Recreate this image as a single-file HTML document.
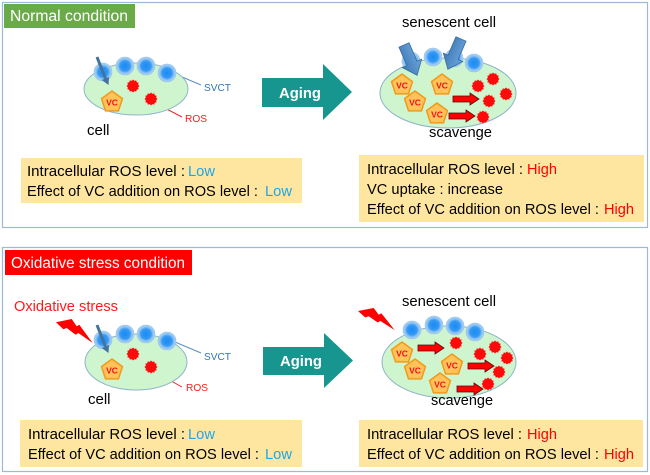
<!DOCTYPE html>
<html><head><meta charset="utf-8">
<style>
html,body{margin:0;padding:0;background:#fff;}
svg{display:block;}
text{font-family:"Liberation Sans",Arial,sans-serif;}
</style></head>
<body>
<svg width="650" height="475" viewBox="0 0 650 475" xmlns="http://www.w3.org/2000/svg">
<defs>
  <radialGradient id="bc" cx="50%" cy="50%" r="50%">
    <stop offset="0%" stop-color="#1a8af3"/>
    <stop offset="55%" stop-color="#3399f5"/>
    <stop offset="78%" stop-color="#8cc2f2"/>
    <stop offset="100%" stop-color="#b3d5f3"/>
  </radialGradient>
  <linearGradient id="ba" x1="0" y1="0" x2="0" y2="1">
    <stop offset="0%" stop-color="#6aa6dc"/>
    <stop offset="100%" stop-color="#3f78b5"/>
  </linearGradient>
  <polygon id="ros" fill="#ff0a0a" points="6.5,0 5.12,1.37 5.63,3.25 3.75,3.75 3.25,5.63 1.37,5.12 0,6.5 -1.37,5.12 -3.25,5.63 -3.75,3.75 -5.63,3.25 -5.12,1.37 -6.5,0 -5.12,-1.37 -5.63,-3.25 -3.75,-3.75 -3.25,-5.63 -1.37,-5.12 0,-6.5 1.37,-5.12 3.25,-5.63 3.75,-3.75 5.63,-3.25 5.12,-1.37"/>
  <polygon id="pent" fill="#ffc35a" stroke="#f29a18" stroke-width="1.5" stroke-linejoin="round" points="0,-11 10.46,-3.4 6.47,8.9 -6.47,8.9 -10.46,-3.4"/>
  <circle id="svct" r="9" fill="url(#bc)" stroke="#94c0ea" stroke-width="0.6"/>
  <polygon id="bolt" fill="#ff0000" points="0,3.3 15.7,0 20.7,7.3 23.3,5.7 36.7,24 22.3,14 19.7,15.7 10.7,9 7.3,10.3"/>
  <path id="barrow" d="M0,-5.5 H20 V-10.5 L33,0 L20,10.5 V5.5 H0 Z" fill="url(#ba)" stroke="#3a6b9c" stroke-width="0.8"/>
  <path id="rarrow" d="M0,-3 H17 V-6 L26,0 L17,6 V3 H0 Z" fill="#ff0000" stroke="#5a0a0a" stroke-width="0.8"/>
</defs>

<rect width="650" height="475" fill="#fff"/>

<!-- ===== Panel 1 ===== -->
<rect x="2.5" y="2.5" width="645" height="225" fill="none" stroke="#9db9d9" stroke-width="1.2"/>
<rect x="4" y="4" width="131" height="24" fill="#6aaa48"/>
<text x="10" y="21" font-size="15.5" fill="#fff" textLength="118" lengthAdjust="spacingAndGlyphs">Normal condition</text>

<!-- normal cell -->
<line x1="175" y1="74" x2="201" y2="85" stroke="#5b8fc7" stroke-width="1"/>
<line x1="155" y1="103" x2="182" y2="117" stroke="#e03030" stroke-width="1"/>
<ellipse cx="136" cy="89" rx="52" ry="26" fill="#cff5cf" stroke="#8fb4c9" stroke-width="1"/>
<use href="#svct" x="103" y="72"/>
<use href="#svct" x="125" y="66"/>
<use href="#svct" x="146" y="66"/>
<use href="#svct" x="167" y="73"/>
<line x1="97" y1="57" x2="105.4" y2="78.5" stroke="#44729e" stroke-width="3"/>
<polygon points="108.5,85 109,77 101.8,80" fill="#44729e"/>
<use href="#pent" x="112" y="102"/>
<text x="112" y="105.5" font-size="8.5" font-weight="bold" fill="#e8141e" text-anchor="middle">VC</text>
<use href="#ros" x="133" y="86"/>
<use href="#ros" x="151" y="99"/>
<text x="204" y="91" font-size="10.5" fill="#2e75b6" textLength="27" lengthAdjust="spacingAndGlyphs">SVCT</text>
<text x="185" y="122" font-size="10.5" fill="#ff1a1a" textLength="22" lengthAdjust="spacingAndGlyphs">ROS</text>
<text x="87" y="135" font-size="15" fill="#000">cell</text>

<!-- Aging arrow 1 -->
<polygon points="262,78 323,78 323,64 352,92 323,120 323,107 262,107" fill="#17968f"/>
<text x="279" y="98" font-size="15" font-weight="bold" fill="#fff" textLength="42" lengthAdjust="spacingAndGlyphs">Aging</text>

<!-- senescent cell 1 -->
<text x="402" y="27" font-size="15" fill="#000" textLength="94" lengthAdjust="spacingAndGlyphs">senescent cell</text>
<ellipse cx="448" cy="93" rx="68" ry="35" fill="#cff5cf" stroke="#8fb4c9" stroke-width="1"/>
<use href="#svct" x="411" y="61"/>
<use href="#svct" x="433" y="57"/>
<use href="#svct" x="454" y="58"/>
<use href="#svct" x="474" y="63"/>
<use href="#barrow" transform="translate(404,45) rotate(66.6)"/>
<use href="#barrow" transform="translate(461,39) rotate(113.4)"/>
<use href="#pent" x="402" y="85"/>
<text x="402" y="88.5" font-size="8.5" font-weight="bold" fill="#e8141e" text-anchor="middle">VC</text>
<use href="#pent" x="442" y="85"/>
<text x="442" y="88.5" font-size="8.5" font-weight="bold" fill="#e8141e" text-anchor="middle">VC</text>
<use href="#pent" x="415" y="102"/>
<text x="415" y="105.5" font-size="8.5" font-weight="bold" fill="#e8141e" text-anchor="middle">VC</text>
<use href="#pent" x="437" y="114"/>
<text x="437" y="117.5" font-size="8.5" font-weight="bold" fill="#e8141e" text-anchor="middle">VC</text>
<use href="#rarrow" x="453" y="99"/>
<use href="#rarrow" x="449" y="116"/>
<use href="#ros" x="478" y="86"/>
<use href="#ros" x="493" y="79"/>
<use href="#ros" x="506" y="94"/>
<use href="#ros" x="489" y="101"/>
<use href="#ros" x="483" y="117"/>
<text x="429" y="137" font-size="15" fill="#000" textLength="63" lengthAdjust="spacingAndGlyphs">scavenge</text>

<!-- yellow boxes panel 1 -->
<rect x="21" y="158" width="281" height="45" fill="#fee6a0"/>
<text x="27" y="176" font-size="15" fill="#000" textLength="158" lengthAdjust="spacingAndGlyphs">Intracellular ROS level :</text>
<text x="188" y="176" font-size="15" fill="#1ea5e6" textLength="27" lengthAdjust="spacingAndGlyphs">Low</text>
<text x="27" y="196" font-size="15" fill="#000" textLength="231" lengthAdjust="spacingAndGlyphs">Effect of VC addition on ROS level :</text>
<text x="265" y="196" font-size="15" fill="#1ea5e6" textLength="27" lengthAdjust="spacingAndGlyphs">Low</text>

<rect x="359" y="155" width="285" height="67" fill="#fee6a0"/>
<text x="367" y="174" font-size="15" fill="#000" textLength="156" lengthAdjust="spacingAndGlyphs">Intracellular ROS level :</text>
<text x="527" y="174" font-size="15" fill="#ff0000" textLength="30" lengthAdjust="spacingAndGlyphs">High</text>
<text x="367" y="194" font-size="15" fill="#000" textLength="136" lengthAdjust="spacingAndGlyphs">VC uptake : increase</text>
<text x="367" y="214" font-size="15" fill="#000" textLength="232" lengthAdjust="spacingAndGlyphs">Effect of VC addition on ROS level :</text>
<text x="604" y="214" font-size="15" fill="#ff0000" textLength="30" lengthAdjust="spacingAndGlyphs">High</text>

<!-- ===== Panel 2 ===== -->
<rect x="2.5" y="247.5" width="645" height="224" fill="none" stroke="#9db9d9" stroke-width="1.2"/>
<rect x="5" y="250" width="187" height="25" fill="#ff0000"/>
<text x="11" y="268" font-size="15.3" fill="#fff" textLength="174" lengthAdjust="spacingAndGlyphs">Oxidative stress condition</text>

<text x="14" y="311" font-size="15" fill="#ff1a1a" textLength="104" lengthAdjust="spacingAndGlyphs">Oxidative stress</text>
<use href="#bolt" x="56" y="319"/>

<!-- cell 2 -->
<line x1="175" y1="342" x2="201" y2="353" stroke="#5b8fc7" stroke-width="1"/>
<line x1="155" y1="372" x2="182" y2="387" stroke="#e03030" stroke-width="1"/>
<ellipse cx="136" cy="362" rx="51" ry="28" fill="#cff5cf" stroke="#8fb4c9" stroke-width="1"/>
<use href="#svct" x="103" y="340"/>
<use href="#svct" x="125" y="334"/>
<use href="#svct" x="146" y="334"/>
<use href="#svct" x="167" y="341"/>
<line x1="97" y1="325" x2="105.4" y2="346.5" stroke="#44729e" stroke-width="3"/>
<polygon points="108.5,353 109,345 101.8,348" fill="#44729e"/>
<use href="#pent" x="112" y="370"/>
<text x="112" y="373.5" font-size="8.5" font-weight="bold" fill="#e8141e" text-anchor="middle">VC</text>
<use href="#ros" x="133" y="354"/>
<use href="#ros" x="151" y="367"/>
<text x="204" y="360" font-size="10.5" fill="#2e75b6" textLength="27" lengthAdjust="spacingAndGlyphs">SVCT</text>
<text x="186" y="391" font-size="10.5" fill="#ff1a1a" textLength="22" lengthAdjust="spacingAndGlyphs">ROS</text>
<text x="88" y="404" font-size="15" fill="#000">cell</text>

<!-- Aging arrow 2 -->
<polygon points="263,347 324,347 324,333 353,360.5 324,388 324,375 263,375" fill="#17968f"/>
<text x="280" y="366" font-size="15" font-weight="bold" fill="#fff" textLength="42" lengthAdjust="spacingAndGlyphs">Aging</text>

<!-- senescent cell 2 -->
<text x="402" y="306" font-size="15" fill="#000" textLength="94" lengthAdjust="spacingAndGlyphs">senescent cell</text>
<use href="#bolt" transform="translate(358,308) scale(1,0.92)"/>
<ellipse cx="449" cy="362" rx="67" ry="36" fill="#cff5cf" stroke="#8fb4c9" stroke-width="1"/>
<use href="#svct" x="412" y="330"/>
<use href="#svct" x="434" y="325"/>
<use href="#svct" x="455" y="326"/>
<use href="#svct" x="475" y="332"/>
<use href="#pent" x="402" y="353"/>
<text x="402" y="356.5" font-size="8.5" font-weight="bold" fill="#e8141e" text-anchor="middle">VC</text>
<use href="#pent" x="415" y="370"/>
<text x="415" y="373.5" font-size="8.5" font-weight="bold" fill="#e8141e" text-anchor="middle">VC</text>
<use href="#pent" x="452" y="365"/>
<text x="452" y="368.5" font-size="8.5" font-weight="bold" fill="#e8141e" text-anchor="middle">VC</text>
<use href="#pent" x="440" y="384"/>
<text x="440" y="387.5" font-size="8.5" font-weight="bold" fill="#e8141e" text-anchor="middle">VC</text>
<use href="#rarrow" x="418" y="348"/>
<use href="#rarrow" x="468" y="366"/>
<use href="#rarrow" x="457" y="389"/>
<use href="#ros" x="456" y="343"/>
<use href="#ros" x="480" y="354"/>
<use href="#ros" x="495" y="347"/>
<use href="#ros" x="507" y="358"/>
<use href="#ros" x="499" y="372"/>
<use href="#ros" x="488" y="384"/>
<text x="431" y="405" font-size="15" fill="#000" textLength="62" lengthAdjust="spacingAndGlyphs">scavenge</text>

<!-- yellow boxes panel 2 -->
<rect x="20" y="420" width="282" height="47" fill="#fee6a0"/>
<text x="28" y="439" font-size="15" fill="#000" textLength="157" lengthAdjust="spacingAndGlyphs">Intracellular ROS level :</text>
<text x="188" y="439" font-size="15" fill="#1ea5e6" textLength="27" lengthAdjust="spacingAndGlyphs">Low</text>
<text x="28" y="459" font-size="15" fill="#000" textLength="231" lengthAdjust="spacingAndGlyphs">Effect of VC addition on ROS level :</text>
<text x="265" y="459" font-size="15" fill="#1ea5e6" textLength="27" lengthAdjust="spacingAndGlyphs">Low</text>

<rect x="359" y="420" width="284" height="47" fill="#fee6a0"/>
<text x="367" y="439" font-size="15" fill="#000" textLength="155" lengthAdjust="spacingAndGlyphs">Intracellular ROS level :</text>
<text x="527" y="439" font-size="15" fill="#ff0000" textLength="30" lengthAdjust="spacingAndGlyphs">High</text>
<text x="367" y="459" font-size="15" fill="#000" textLength="232" lengthAdjust="spacingAndGlyphs">Effect of VC addition on ROS level :</text>
<text x="604" y="459" font-size="15" fill="#ff0000" textLength="30" lengthAdjust="spacingAndGlyphs">High</text>
</svg>
</body></html>
